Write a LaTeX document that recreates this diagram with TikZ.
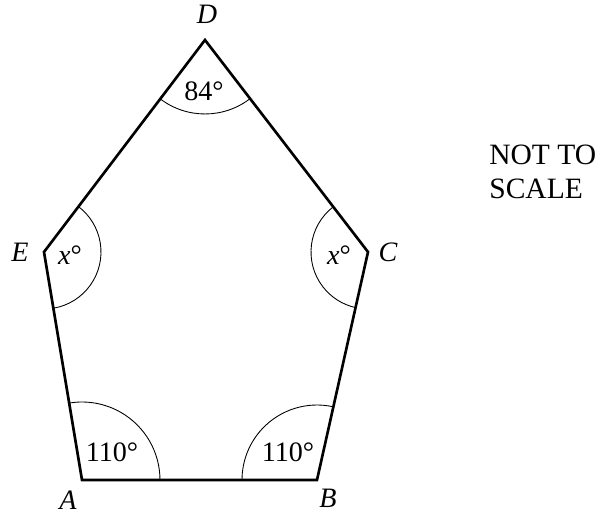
\documentclass[tikz,border=0pt]{standalone}
\usepackage{fontspec}
\setmainfont{Liberation Serif}
\usetikzlibrary{angles}

\begin{document}
\begin{tikzpicture}[
      x=0.02cm, y=0.02cm,
      side/.style={line width=1.5pt, line join=miter},
      anglemark/.style={draw, line width=0.5pt},
      vlabel/.style={font=\fontsize{16}{19}\selectfont\itshape, inner sep=0pt},
      alabel/.style={font=\fontsize{16}{19}\selectfont, inner sep=0pt}
    ]
    \useasboundingbox (0,0) rectangle (600,516);

    \coordinate (A) at (82,36);
    \coordinate (B) at (317,36);
    \coordinate (C) at (368,264);
    \coordinate (D) at (205,476);
    \coordinate (E) at (44,264);

    \draw[side] (A) -- (B) -- (C) -- (D) -- (E) -- cycle;

    % angle marks
    \pic[anglemark, angle radius=1.56cm] {angle = B--A--E};
    \pic[anglemark, angle radius=1.5cm]  {angle = C--B--A};
    \pic[anglemark, angle radius=1.14cm] {angle = D--C--B};
    \pic[anglemark, angle radius=1.48cm] {angle = E--D--C};
    \pic[anglemark, angle radius=1.14cm] {angle = A--E--D};

    \node[alabel] (aA) at (112,64)  {110°};
    \node[alabel] (aB) at (288,64)  {110°};
    \node[alabel] (aD) at (204,425) {84°};
    \node[alabel] (aE) at (70,261)  {\textit{x}°};
    \node[alabel] (aC) at (339,261) {\textit{x}°};

    \node[vlabel] (lA) at (68,16)  {A};
    \node[vlabel] (lB) at (328,18) {B};
    \node[vlabel] (lC) at (388,264) {C};
    \node[vlabel] (lD) at (207,502) {D};
    \node[vlabel] (lE) at (20,264) {E};

    \node[alabel, font=\fontsize{16.8}{19.5}\selectfont, align=left, anchor=west] (note) at (489,344) {NOT TO\\SCALE};
  \end{tikzpicture}
\end{document}
